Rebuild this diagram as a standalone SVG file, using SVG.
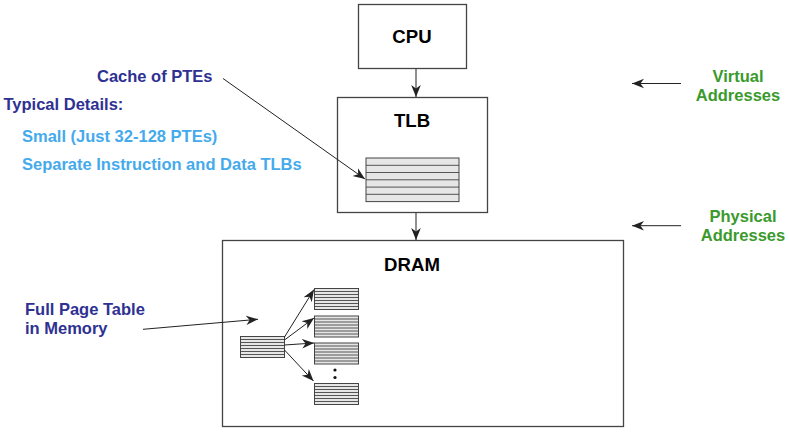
<svg xmlns="http://www.w3.org/2000/svg" width="789" height="433" viewBox="0 0 789 433">
<style>
.box{fill:#fff;stroke:#444;stroke-width:1.3}
.ttl{font-family:"Liberation Sans",Arial,sans-serif;font-weight:bold;font-size:18.6px;fill:#000;text-anchor:middle}
.lbl{font-family:"Liberation Sans",Arial,sans-serif;font-weight:bold;font-size:16.5px}
.dk{fill:#2e3192}
.lt{fill:#45aaec}
.gr{fill:#3a9a2c}
.cn{stroke:#222;stroke-width:1;fill:none;marker-end:url(#ah)}
.tb{fill:#e6e6e6;stroke:#444;stroke-width:1}
.tl{stroke:#444;stroke-width:0.9}
</style>
<defs>
<marker id="ah" viewBox="0 0 10 10" refX="10" refY="5" markerWidth="12" markerHeight="12" markerUnits="userSpaceOnUse" orient="auto">
<path d="M0,1 L10,5 L0,9 L3,5 Z" fill="#222"/>
</marker>
<symbol id="pt" viewBox="0 0 44 21" width="44" height="21" overflow="visible">
<rect x="0" y="0" width="44" height="21" class="tb"/>
<path class="tl" d="M0,3H44M0,6H44M0,9H44M0,12H44M0,15H44M0,18H44"/>
</symbol>
</defs>
<rect width="789" height="433" fill="#fff"/>

<g id="cpu">
<rect class="box" x="358.5" y="4.5" width="108" height="64"/>
<text class="ttl" x="412" y="42.5">CPU</text>
</g>

<g id="tlb">
<rect class="box" x="337.5" y="97.5" width="150" height="115"/>
<text class="ttl" x="412" y="127">TLB</text>
<rect class="tb" x="366" y="158" width="93" height="43.6"/>
<path class="tl" d="M366,165.3H459M366,172.5H459M366,179.8H459M366,187.1H459M366,194.3H459"/>
</g>

<g id="dram">
<rect class="box" x="222.5" y="240.5" width="401" height="186"/>
<text class="ttl" x="412" y="271">DRAM</text>
<use href="#pt" x="240.5" y="336.5"/>
<use href="#pt" x="314.5" y="288.5"/>
<use href="#pt" x="314.5" y="316"/>
<use href="#pt" x="314.5" y="343"/>
<use href="#pt" x="314.5" y="383.5"/>
<circle cx="335" cy="370" r="1.6" fill="#111"/>
<circle cx="335" cy="377.5" r="1.6" fill="#111"/>
</g>

<g id="labels">
<text class="lbl dk" x="97" y="81.7">Cache of PTEs</text>
<text class="lbl dk" x="3.5" y="110">Typical Details:</text>
<text class="lbl lt" x="22" y="141.7">Small (Just 32-128 PTEs)</text>
<text class="lbl lt" x="22" y="170">Separate Instruction and Data TLBs</text>
<text class="lbl dk" x="25" y="315">Full Page Table</text>
<text class="lbl dk" x="25" y="334.3">in Memory</text>
<text class="lbl gr" x="738" y="81.7" text-anchor="middle">Virtual</text>
<text class="lbl gr" x="738" y="100.7" text-anchor="middle">Addresses</text>
<text class="lbl gr" x="743" y="221.7" text-anchor="middle">Physical</text>
<text class="lbl gr" x="743" y="240.7" text-anchor="middle">Addresses</text>
</g>

<g id="connectors">
<line class="cn" x1="416" y1="69" x2="416" y2="97"/>
<line class="cn" x1="416" y1="213" x2="416" y2="240"/>
<line class="cn" x1="223" y1="78.5" x2="365" y2="179"/>
<line class="cn" x1="143" y1="329.3" x2="258" y2="319.3"/>
<line class="cn" x1="681" y1="83.5" x2="632" y2="83.5"/>
<line class="cn" x1="681" y1="225.7" x2="632" y2="225.7"/>
<line class="cn" x1="284.5" y1="337" x2="314" y2="289.5"/>
<line class="cn" x1="284.5" y1="340" x2="314" y2="318"/>
<line class="cn" x1="284.5" y1="345" x2="314" y2="343"/>
<line class="cn" x1="284.5" y1="350" x2="313.5" y2="381"/>
</g>
</svg>
